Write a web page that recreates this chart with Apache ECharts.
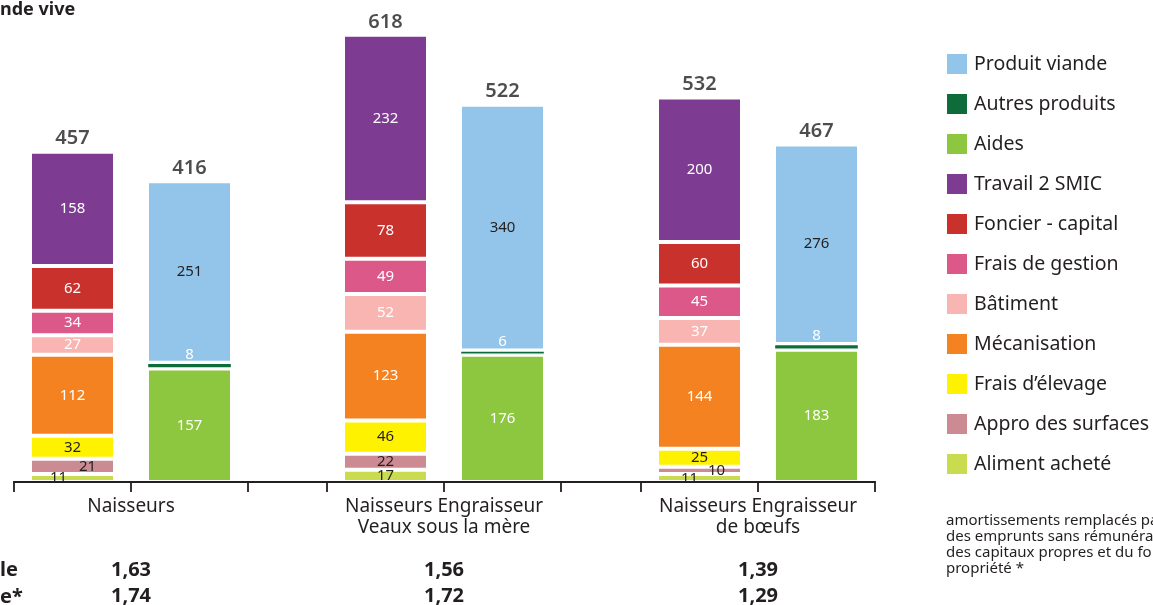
<!DOCTYPE html>
<html><head><meta charset="utf-8">
<script src="https://cdn.jsdelivr.net/npm/echarts/dist/echarts.min.js"></script>
<style>html,body{margin:0;padding:0;background:#fff}#c{width:1153px;height:605px}</style>
</head><body><div id="c"></div>
<script>
// ---------- DATA ----------
const groups = ['Naisseurs', 'Naisseurs Engraisseur\nVeaux sous la mère', 'Naisseurs Engraisseur\nde bœufs'];
const barCategories = ['Coût', 'Produit'];
const alimentAchete   = [11, 17, 11];
const approSurfaces   = [21, 22, 10];
const fraisElevage    = [32, 46, 25];
const mecanisation    = [112, 123, 144];
const batiment        = [27, 52, 37];
const fraisGestion    = [34, 49, 45];
const foncierCapital  = [62, 78, 60];
const travail2Smic    = [158, 232, 200];
const aides           = [157, 176, 183];
const autresProduits  = [8, 6, 8];
const produitViande   = [251, 340, 276];
const totalCout       = [457, 618, 532];
const totalProduit    = [416, 522, 467];
const ratioLigne1     = ['1,63', '1,56', '1,39'];
const ratioLigne2     = ['1,74', '1,72', '1,29'];
const legendOrder = ['Produit viande', 'Autres produits', 'Aides', 'Travail 2 SMIC', 'Foncier - capital',
  'Frais de gestion', 'Bâtiment', 'Mécanisation', 'Frais d’élevage', 'Appro des surfaces', 'Aliment acheté'];

// ---------- STYLE ----------
const FONT = '"Noto Sans", sans-serif';
const DARK = '#231f20';
const WHITE = '#ffffff';
const costStack = [
  { name: 'Aliment acheté', values: alimentAchete, color: '#c9dc4f', text: DARK },
  { name: 'Appro des surfaces', values: approSurfaces, color: '#cc8a93', text: DARK },
  { name: 'Frais d’élevage', values: fraisElevage, color: '#fff200', text: DARK },
  { name: 'Mécanisation', values: mecanisation, color: '#f48221', text: WHITE },
  { name: 'Bâtiment', values: batiment, color: '#f9b5b2', text: WHITE },
  { name: 'Frais de gestion', values: fraisGestion, color: '#dc5889', text: WHITE },
  { name: 'Foncier - capital', values: foncierCapital, color: '#c9312c', text: WHITE },
  { name: 'Travail 2 SMIC', values: travail2Smic, color: '#7d3c92', text: WHITE }
];
const productStack = [
  { name: 'Aides', values: aides, color: '#8dc63f', text: WHITE },
  { name: 'Autres produits', values: autresProduits, color: '#0e6b3a', text: WHITE, pos: 'top', border: 1.2 },
  { name: 'Produit viande', values: produitViande, color: '#92c5e9', text: DARK }
];
// label nudges for thin segments (group index -> series name -> offset)
const labelNudge = {
  0: { 'Aliment acheté': [-14, 0], 'Appro des surfaces': [15, 0] },
  2: { 'Aliment acheté': [-10, 1], 'Appro des surfaces': [17, 0] }
};
const gridLefts = [14, 327, 641];
const GRID_W = 234, GRID_TOP = 5, GRID_BOTTOM = 123, YMAX = 660;

const grids = [], xAxes = [], yAxes = [], series = [];
gridLefts.forEach((left, g) => {
  grids.push({ left: left, width: GRID_W, top: GRID_TOP, bottom: GRID_BOTTOM, containLabel: false, outerBoundsMode: 'none' });
  yAxes.push({ type: 'value', gridIndex: g, min: 0, max: YMAX, show: false });
  const base = xAxes.length;
  xAxes.push({
    type: 'category', gridIndex: g, data: barCategories, position: 'bottom', z: 10,
    axisLine: { show: true, lineStyle: { color: DARK, width: 1.8 } },
    axisTick: { show: true, length: 10, lineStyle: { color: DARK, width: 1.8 } },
    axisLabel: { show: false }, splitLine: { show: false }
  });
  const labelAxis = (text, margin, extra) => ({
    type: 'category', gridIndex: g, data: [text], position: 'bottom',
    axisLine: { show: false }, axisTick: { show: false }, splitLine: { show: false },
    axisLabel: Object.assign({ interval: 0, margin: margin, color: DARK, fontFamily: FONT }, extra)
  });
  xAxes.push(labelAxis(groups[g], 14.5, { fontSize: 19, lineHeight: 21 }));
  xAxes.push(labelAxis(ratioLigne1[g], 77, { fontSize: 20, fontWeight: 'bold', lineHeight: 22 }));
  xAxes.push(labelAxis(ratioLigne2[g], 103, { fontSize: 20, fontWeight: 'bold', lineHeight: 22 }));

  const mk = (s, idx) => {
    const nudge = (labelNudge[g] || {})[s.name];
    const item = { value: s.values[g] };
    if (nudge) item.label = { offset: nudge };
    const data = idx === 0 ? [item, '-'] : ['-', item];
    series.push({
      type: 'bar', name: s.name, xAxisIndex: base, yAxisIndex: g, stack: 'st' + g,
      barWidth: 85, data: data,
      itemStyle: { color: s.color, borderColor: '#fff', borderWidth: s.border || 2 },
      label: {
        show: true, position: s.pos || 'inside', distance: 1, color: s.text,
        fontSize: 15, fontFamily: FONT
      },
      emphasis: { disabled: true }
    });
  };
  costStack.forEach(s => mk(s, 0));
  productStack.forEach(s => mk(s, 1));
  series.push({
    type: 'scatter', name: 'total' + g, xAxisIndex: base, yAxisIndex: g,
    data: [totalCout[g], totalProduit[g]], symbolSize: 0,
    label: { show: true, position: 'top', distance: 3, color: DARK, fontSize: 20, fontWeight: 600, fontFamily: FONT },
    emphasis: { disabled: true }, tooltip: { show: false }
  });
});
// continuous baseline
grids.push({ left: 14, right: 1153 - 875, top: GRID_TOP, bottom: GRID_BOTTOM, containLabel: false, outerBoundsMode: 'none' });
xAxes.push({ type: 'value', gridIndex: 3, min: 0, max: 1, z: 10,
  axisLine: { show: true, onZero: false, lineStyle: { color: DARK, width: 1.8 } },
  axisTick: { show: false }, axisLabel: { show: false }, splitLine: { show: false } });
yAxes.push({ type: 'value', gridIndex: 3, min: 0, max: 1, show: false });

const chart = echarts.init(document.getElementById('c'), null, { renderer: 'canvas' });
chart.setOption({
  animation: false,
  backgroundColor: '#fff',
  textStyle: { fontFamily: FONT },
  grid: grids, xAxis: xAxes, yAxis: yAxes, series: series,
  legend: {
    data: legendOrder, orient: 'vertical', left: 945, top: 52, padding: 0,
    itemWidth: 22, itemHeight: 22, itemGap: 16, icon: 'rect', selectedMode: false,
    textStyle: { fontSize: 19.5, color: DARK, fontFamily: FONT, padding: [0, 0, 0, 1] }
  },
  graphic: [
    { type: 'text', left: 0, top: 1, style: { text: 'nde vive', fill: DARK, font: 'bold 18px "Noto Sans"' } },
    { type: 'text', left: 0, top: 560, style: { text: 'le', fill: DARK, font: 'bold 20px "Noto Sans"' } },
    { type: 'text', left: 0, top: 587, style: { text: 'e*', fill: DARK, font: 'bold 20px "Noto Sans"' } },
    { type: 'text', left: 946, top: 513, style: {
      text: 'amortissements remplacés par\ndes emprunts sans rémunération\ndes capitaux propres et du foncier en\npropriété *',
      fill: DARK, font: '15px "Noto Sans"', lineHeight: 16 } }
  ]
});
</script></body></html>
